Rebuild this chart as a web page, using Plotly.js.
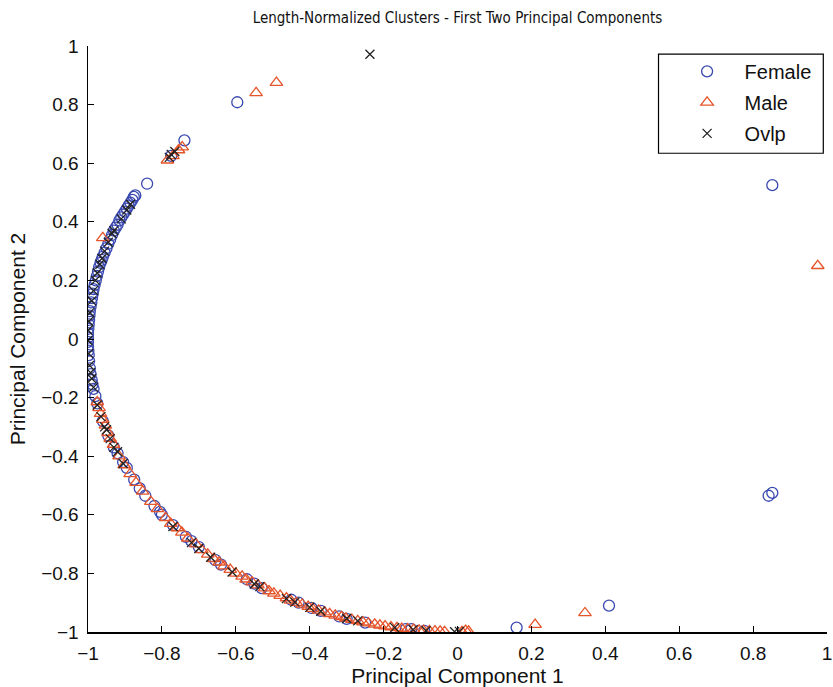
<!DOCTYPE html>
<html>
<head>
<meta charset="utf-8">
<script src="https://cdn.plot.ly/plotly-3.0.1.min.js"></script>
<style>html,body{margin:0;padding:0;background:#fff;}#chart{width:833px;height:687px;}</style>
</head>
<body>
<div id="chart"></div>
<script>
// ---- Data ----
const femaleX = [-0.596,-0.739,-0.775,-0.84,0.852,0.842,0.852,0.41,0.16,
  -0.872,-0.876,-0.88,-0.885,-0.89,-0.895,-0.9,-0.905,-0.91,-0.915,-0.92,-0.925,-0.93,-0.935,-0.94,-0.945,-0.95,-0.955,-0.96,-0.963,-0.966,-0.97,-0.973,-0.976,-0.979,-0.982,-0.985,-0.987,-0.989,-0.991,-0.993,-0.995,-0.996,-0.997,-0.998,-0.999,-1,-1,-1,-1,-0.999,-0.998,-0.997,-0.995,-0.993,-0.99,-0.988,-0.985,-0.98,
  -0.975,-0.96,-0.945,-0.93,-0.92,-0.905,-0.895,-0.875,-0.86,-0.845,-0.82,-0.805,-0.8,-0.77,-0.735,-0.72,-0.7,-0.655,-0.64,-0.57,-0.55,-0.53,-0.45,-0.43,-0.395,-0.37,-0.32,-0.3,-0.25,-0.14,-0.125,-0.09];
const femaleY = [0.808,0.678,0.625,0.53,0.525,-0.535,-0.525,-0.91,-0.985,
  0.49,0.485,0.475,0.465,0.455,0.445,0.435,0.425,0.415,0.405,0.39,0.38,0.37,0.355,0.34,0.325,0.31,0.295,0.28,0.27,0.26,0.245,0.23,0.215,0.2,0.185,0.17,0.155,0.14,0.125,0.11,0.095,0.08,0.065,0.05,0.035,0.02,0.005,-0.01,-0.025,-0.04,-0.055,-0.075,-0.1,-0.12,-0.14,-0.155,-0.17,-0.195,
  -0.22,-0.28,-0.33,-0.37,-0.39,-0.42,-0.44,-0.48,-0.51,-0.535,-0.57,-0.59,-0.6,-0.635,-0.675,-0.69,-0.71,-0.755,-0.77,-0.82,-0.835,-0.85,-0.89,-0.9,-0.918,-0.928,-0.947,-0.955,-0.968,-0.99,-0.99,-0.996];

const maleX = [-0.545,-0.49,0.975,0.345,0.21,0.022,0.03,0.012,
  -0.785,-0.77,-0.755,-0.745,-0.96,
  -0.975,-0.97,-0.966,-0.96,-0.953,-0.946,-0.94,-0.931,-0.916,-0.902,-0.886,-0.87,-0.852,-0.83,-0.812,-0.79,-0.776,-0.758,-0.746,-0.73,-0.708,-0.692,-0.676,-0.66,-0.645,-0.632,-0.615,-0.6,-0.583,-0.572,-0.556,-0.54,-0.522,-0.51,-0.497,-0.48,-0.463,-0.452,-0.436,-0.42,-0.404,-0.392,-0.376,-0.36,-0.346,-0.331,-0.314,-0.302,-0.286,-0.27,-0.256,-0.241,-0.224,-0.21,-0.196,-0.18,-0.164,-0.151,-0.135,-0.119,-0.104,-0.092,-0.076,-0.061,-0.047,-0.035];
const maleY = [0.84,0.875,0.25,-0.935,-0.975,-0.995,-0.998,-0.999,
  0.61,0.625,0.645,0.655,0.345,
  -0.215,-0.235,-0.255,-0.275,-0.295,-0.32,-0.34,-0.36,-0.4,-0.43,-0.46,-0.49,-0.52,-0.555,-0.58,-0.61,-0.63,-0.645,-0.66,-0.68,-0.7,-0.72,-0.735,-0.75,-0.762,-0.775,-0.787,-0.8,-0.81,-0.82,-0.83,-0.84,-0.85,-0.86,-0.868,-0.876,-0.884,-0.892,-0.9,-0.906,-0.913,-0.92,-0.926,-0.932,-0.938,-0.943,-0.948,-0.953,-0.958,-0.962,-0.966,-0.97,-0.974,-0.977,-0.98,-0.983,-0.986,-0.988,-0.99,-0.992,-0.994,-0.995,-0.996,-0.997,-0.998,-0.999];

const ovlpX = [-0.237,-0.775,-0.765,-0.78,
  -0.885,-0.895,-0.91,-0.93,-0.935,-0.945,-0.955,-0.962,-0.968,-0.975,-0.98,-0.985,-0.99,-0.995,-0.998,-1,-1,-0.998,-0.996,-0.993,-0.99,-0.985,-0.975,-0.965,-0.955,-0.95,-0.94,
  -0.93,-0.92,-0.905,-0.77,-0.72,-0.7,-0.668,-0.61,-0.55,-0.535,-0.463,-0.44,-0.4,-0.37,-0.3,-0.27,-0.17,-0.12,-0.085,-0.008,0.005];
const ovlpY = [0.972,0.63,0.64,0.62,
  0.46,0.44,0.41,0.37,0.36,0.33,0.3,0.275,0.255,0.225,0.2,0.165,0.13,0.09,0.06,0.03,-0.005,-0.05,-0.09,-0.115,-0.135,-0.165,-0.225,-0.265,-0.3,-0.31,-0.34,
  -0.37,-0.385,-0.425,-0.64,-0.695,-0.715,-0.745,-0.795,-0.836,-0.845,-0.886,-0.898,-0.916,-0.929,-0.954,-0.962,-0.985,-0.992,-0.996,-0.999,-0.998];

const tickVals = [-1,-0.8,-0.6,-0.4,-0.2,0,0.2,0.4,0.6,0.8,1];
const tickText = ['\u22121','\u22120.8','\u22120.6','\u22120.4','\u22120.2','0','0.2','0.4','0.6','0.8','1'];

const FONT = 'Liberation Sans, Arial, Helvetica, sans-serif';
const TITLEFONT = 'Liberation Sans Narrow, DejaVu Sans Condensed, Liberation Sans, Arial, sans-serif';
const traces = [
  {x: femaleX, y: femaleY, name: 'Female', mode: 'markers', type: 'scatter', legendgroup: 'a',
   marker: {symbol: 'circle-open', size: 11, color: '#3a49b0', line: {width: 1.3}}},
  {x: maleX, y: maleY, name: 'Male', mode: 'markers', type: 'scatter', legendgroup: 'b',
   marker: {symbol: 'triangle-up-open', size: 11, color: '#e5552b', line: {width: 1.3}}},
  {x: ovlpX, y: ovlpY, name: 'Ovlp', mode: 'markers', type: 'scatter', legendgroup: 'c',
   marker: {symbol: 'x-thin-open', size: 9, color: '#222222', line: {width: 1.3}}}
];

const axisCommon = {
  range: [-1, 1], tickvals: tickVals, ticktext: tickText,
  showline: true, linecolor: '#000', linewidth: 1.5,
  ticks: 'inside', ticklen: 6, tickcolor: '#000', tickwidth: 1,
  showgrid: false, zeroline: false, mirror: false,
  ticklabeloverflow: 'allow',
  tickfont: {family: FONT, size: 19, color: '#111'}
};

const layout = {
  width: 833, height: 687,
  margin: {l: 88, r: 6, t: 46, b: 55},
  paper_bgcolor: '#fff', plot_bgcolor: '#fff',
  font: {family: FONT, color: '#111'},
  title: {text: 'Length-Normalized Clusters - First Two Principal Components',
          font: {family: TITLEFONT, size: 15, color: '#111'},
          x: 0.5, xref: 'paper', y: 1 - 18/687, yref: 'container', yanchor: 'middle'},
  xaxis: Object.assign({}, axisCommon, {
    title: {text: 'Principal Component 1', font: {family: FONT, size: 21, color: '#111'}, standoff: 4},
    ticklabelstandoff: 4
  }),
  yaxis: Object.assign({}, axisCommon, {
    title: {text: 'Principal Component 2', font: {family: FONT, size: 21, color: '#111'}, standoff: 10},
    ticklabelstandoff: 4
  }),
  showlegend: true,
  legend: {x: 0.787, y: 0.99, xanchor: 'left', yanchor: 'top',
           bgcolor: 'rgba(0,0,0,0)', borderwidth: 0,
           font: {family: FONT, size: 20, color: '#111'},
           tracegroupgap: 2, itemwidth: 65},
  shapes: [{type: 'rect', xref: 'paper', yref: 'paper', x0: 0.772, x1: 0.995, y0: 0.817, y1: 0.986,
            line: {color: '#000', width: 1.2}, fillcolor: '#fff', layer: 'below'}]
};

Plotly.newPlot('chart', traces, layout, {displayModeBar: false, staticPlot: true});
</script>
</body>
</html>
